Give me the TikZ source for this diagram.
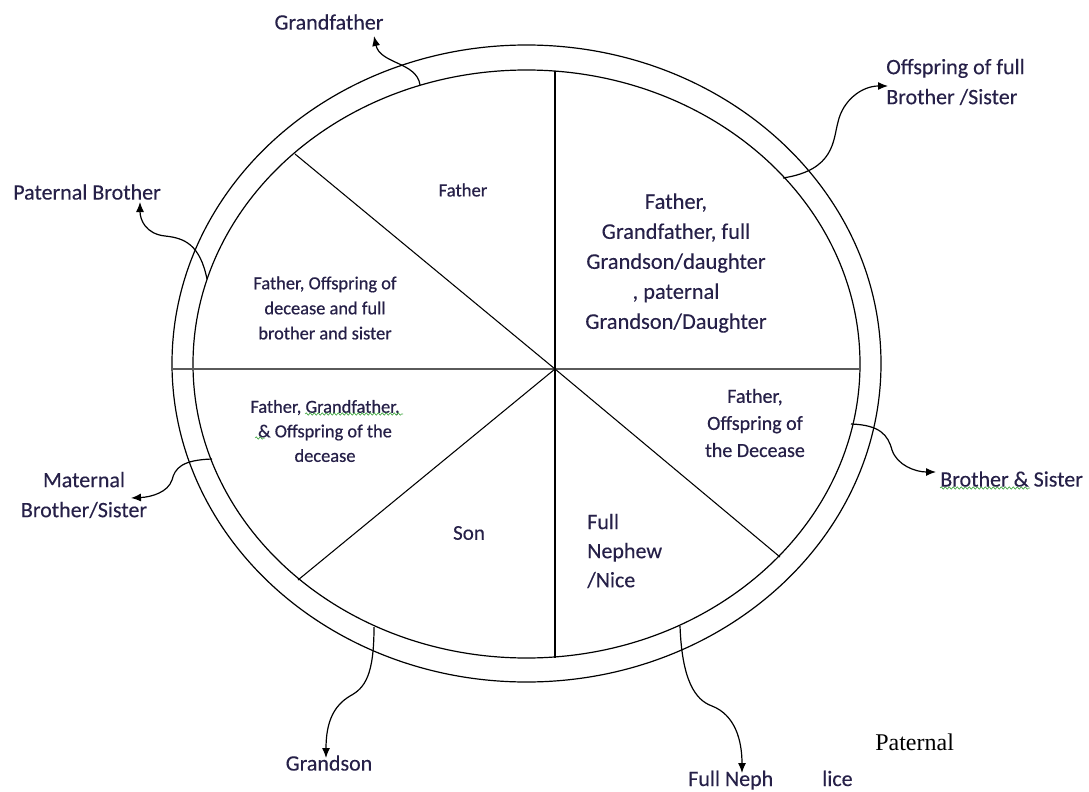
\documentclass[tikz,border=0pt]{standalone}
\usepackage{fontspec}
\setmainfont{Carlito}
\newfontfamily\heavyfont[FakeBold=0.6]{Carlito}
\newfontfamily\midfont[FakeBold=0.25]{Carlito}
\newfontfamily\timesfont{Liberation Serif}
\usepackage{xcolor}
\usetikzlibrary{arrows.meta,decorations.pathmorphing}

\definecolor{inkblue}{RGB}{38,32,72}
\definecolor{spellgreen}{RGB}{70,170,70}

\begin{document}
\begin{tikzpicture}[x=0.75pt,y=0.75pt,yscale=-1,xscale=1,
  lbl/.style={inner sep=0.75pt,text=inkblue,font=\midfont\fontsize{16.5}{22.5}\selectfont,align=center},
  sect/.style={inner sep=0.75pt,text=inkblue,align=center},
  conn/.style={-{Latex[length=7.5pt,width=6pt]},line width=0.9pt},
  ring/.style={line width=0.9pt},
  spoke/.style={line width=0.8pt},
  squig/.style={spellgreen,line width=0.5pt,decorate,decoration={snake,amplitude=0.9pt,segment length=3pt}}]
%set diagram left start at 0, and has height of 792
\useasboundingbox (0,0) rectangle (1089,792);

%Shape: Ellipse [id:outer ring]
\draw [ring] (172,363.5) .. controls (172,187.59) and (330.71,45) .. (526.5,45) .. controls (722.29,45) and (881,187.59) .. (881,363.5) .. controls (881,539.41) and (722.29,682) .. (526.5,682) .. controls (330.71,682) and (172,539.41) .. (172,363.5) -- cycle ;
%Shape: Ellipse [id:inner ring]
\draw [ring] (193,364) .. controls (193,201.62) and (342.31,70) .. (526.5,70) .. controls (710.69,70) and (860,201.62) .. (860,364) .. controls (860,526.38) and (710.69,658) .. (526.5,658) .. controls (342.31,658) and (193,526.38) .. (193,364) -- cycle ;

% spoke ends
\coordinate (hub) at (555,369);
\coordinate (top) at (555,71);
\coordinate (bot) at (555,658);
\coordinate (lft) at (172,369);
\coordinate (rgt) at (860,369);
\coordinate (ul) at (295,154);
\coordinate (ll) at (298,580);
\coordinate (lr) at (780,557);

%Straight Lines
\draw [line width=1.6pt,color={rgb, 255:red, 90; green, 90; blue, 90 }] (lft) -- (rgt) ;
\draw [spoke] (top) -- (bot) ;
\draw [spoke] (ul) -- (hub) ;
\draw [spoke] (ll) -- (hub) ;
\draw [spoke] (lr) -- (hub) ;

% Text Node
\node [sect,font=\heavyfont\fontsize{14}{18}\selectfont] (sFather) at (463,190) {Father};
% Text Node
\node [sect,font=\midfont\fontsize{16.8}{22.5}\selectfont] (sRight) at (676,263) {Father,\\Grandfather, full\\Grandson/daughter\\, paternal\\Grandson/Daughter};
% Text Node
\node [sect,font=\heavyfont\fontsize{13.8}{18.8}\selectfont] (sUpLeft) at (325,308) {Father, Offspring of\\decease and full\\brother and sister};
% Text Node
\node [sect,font=\heavyfont\fontsize{13.8}{18.4}\selectfont] (sLowLeft) at (325,431) {Father, Grandfather,\\\& Offspring of the\\decease};
% Text Node
\node [sect,font=\heavyfont\fontsize{15}{20.3}\selectfont] (sLowRight) at (755,423) {Father,\\Offspring of\\the Decease};
% Text Node
\node [sect,font=\midfont\fontsize{15.8}{20}\selectfont] (sSon) at (469,533) {Son};
% Text Node
\node [sect,font=\midfont\fontsize{16.5}{21.8}\selectfont,align=left,anchor=west] (sNephew) at (586,551) {Full\\Nephew\\/Nice};

% spell check marks
\draw [squig] (305,414) -- (403,414) ;
\draw [squig] (255,438) -- (265,438) ;
\draw [squig] (940,488) -- (1030,488) ;

% Text Node
\node [lbl] (gf) at (329,22) {Grandfather};
% Text Node
\node [lbl,align=left,anchor=west] (offs) at (885,82) {Offspring of full\\Brother /Sister};
% Text Node
\node [lbl] (pb) at (87,192) {Paternal Brother};
% Text Node
\node [lbl] (mbs) at (84,495) {Maternal\\Brother/Sister};
% Text Node
\node [lbl,anchor=west] (bs) at (939,479) {Brother \& Sister};
% Text Node
\node [lbl] (gs) at (329,763) {Grandson};
% Text Node
\node [lbl,anchor=base west] (fn) at (687,786) {Full Neph};
% Text Node
\node [lbl,anchor=base west] (fnb) at (821,786) {lice};
% Text Node
\node [inner sep=0.75pt,anchor=base west,font=\timesfont\fontsize{18}{22}\selectfont] (pat) at (874,750) {Paternal};

% connector ends
\coordinate (gfA) at (420,85);
\coordinate (gfB) at (374,36);
\coordinate (offA) at (783,178);
\coordinate (offB) at (888,86);
\coordinate (pbA) at (207,279);
\coordinate (pbB) at (140,202);
\coordinate (mbA) at (212,459);
\coordinate (mbB) at (131,498);
\coordinate (bsA) at (851,424);
\coordinate (bsB) at (936,472);
\coordinate (gsA) at (374,627);
\coordinate (gsB) at (326,758);
\coordinate (fnA) at (680,626);
\coordinate (fnB) at (742,773);

%Curve Lines
\draw [conn] (gfA) .. controls (417,62) and (380,64) .. (gfB) ;
%Curve Lines
\draw [conn] (offA) .. controls (835,170) and (833,140) .. (838,122) .. controls (843,100) and (862,86) .. (offB) ;
%Curve Lines
\draw [conn] (pbA) .. controls (200,245) and (185,238) .. (165,236) .. controls (146,234) and (140,220) .. (pbB) ;
%Curve Lines
\draw [conn] (mbA) .. controls (182,460) and (175,468) .. (172,480) .. controls (168,492) and (152,497) .. (mbB) ;
%Curve Lines
\draw [conn] (bsA) .. controls (880,425) and (888,435) .. (892,450) .. controls (897,465) and (915,472) .. (bsB) ;
%Curve Lines
\draw [conn] (gsA) .. controls (374,675) and (365,688) .. (350,696) .. controls (335,705) and (326,720) .. (gsB) ;
%Curve Lines
\draw [conn] (fnA) .. controls (682,680) and (695,700) .. (712,706) .. controls (735,715) and (742,740) .. (fnB) ;

\end{tikzpicture}
\end{document}
